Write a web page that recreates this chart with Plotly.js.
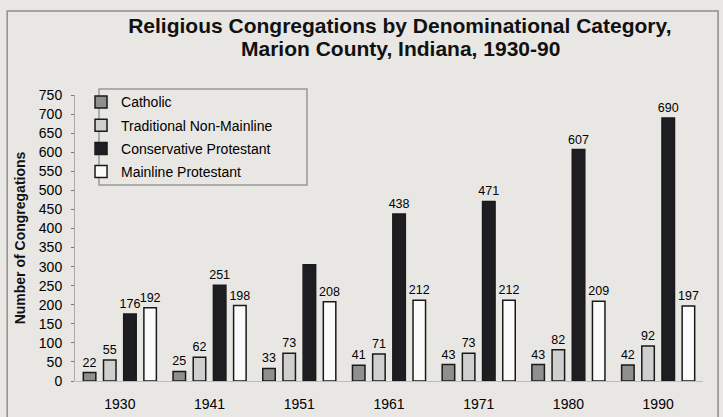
<!DOCTYPE html>
<html>
<head>
<meta charset="utf-8">
<script src="https://cdn.plot.ly/plotly-3.0.1.min.js"></script>
<style>html,body{margin:0;padding:0;background:#e9e7e3;}#chart{width:723px;height:417px;}</style>
</head>
<body>
<div id="chart"></div>
<script>
const years = ['1930', '1941', '1951', '1961', '1971', '1980', '1990'];
const catholic = [22, 25, 33, 41, 43, 43, 42];
const traditional = [55, 62, 73, 71, 73, 82, 92];
const conservative = [176, 251, 305, 438, 471, 607, 690];
const mainline = [192, 198, 208, 212, 212, 209, 197];
const conservativeLabels = ['176', '251', '', '438', '471', '607', '690'];
const yTicks = [0, 50, 100, 150, 200, 250, 300, 350, 400, 450, 500, 550, 600, 650, 700, 750];
const titleLine1 = 'Religious Congregations by Denominational Category,';
const titleLine2 = 'Marion County, Indiana, 1930-90';

const FONT = 'Liberation Sans, Arial, Helvetica, sans-serif';

function mk(name, vals, fill, labels) {
  return {
    type: 'bar', name: name, x: years, y: vals,
    text: labels || vals.map(String), textposition: 'outside', cliponaxis: false,
    constraintext: 'none',
    textfont: {family: FONT, size: 12.5, color: '#000'},
    marker: {color: fill, line: {color: '#1a1a1a', width: 1.5}},
    legendgroup: name, hoverinfo: 'x+y'
  };
}

const data = [
  mk('Catholic', catholic, '#8f8f8f'),
  mk('Traditional Non-Mainline', traditional, '#cfcfcf'),
  mk('Conservative Protestant', conservative, '#1e1e22', conservativeLabels),
  mk('Mainline Protestant', mainline, '#fbfbfb')
];

const layout = {
  width: 723, height: 417,
  margin: {l: 75, r: 20, t: 95, b: 36},
  paper_bgcolor: '#e9e7e3', plot_bgcolor: '#e9e7e3',
  font: {family: FONT, color: '#111'},
  title: {
    text: '<b>' + titleLine1 + '</b>',
    font: {family: FONT, size: 21, color: '#111'},
    x: 0.553, xanchor: 'center', xref: 'container',
    y: 0.9376, yanchor: 'middle', yref: 'container'
  },
  annotations: [
    {text: '<b>' + titleLine2 + '</b>', xref: 'paper', yref: 'paper', x: 0.518, y: 1.164,
     xanchor: 'center', yanchor: 'middle', showarrow: false,
     font: {family: FONT, size: 21, color: '#111'}}
  ],
  barmode: 'group', bargap: 0.1, bargroupgap: 0.38,
  xaxis: {
    type: 'category', range: [-0.5, 6.5],
    showline: false, showgrid: false, zeroline: false,
    ticks: '', ticklabelstandoff: 13,
    tickfont: {family: FONT, size: 14, color: '#000'}
  },
  yaxis: {
    range: [0, 750], tickvals: yTicks, ticktext: yTicks.map(String),
    showgrid: false, zeroline: true, zerolinecolor: '#bbb', zerolinewidth: 1,
    showline: true, linecolor: '#aaa', linewidth: 1,
    ticks: 'outside', ticklen: 3, tickcolor: '#777', ticklabelstandoff: 6,
    tickfont: {family: FONT, size: 14, color: '#000'},
    title: {text: '<b>Number of Congregations</b>', font: {family: FONT, size: 14, color: '#111'}, standoff: 9}
  },
  legend: {
    x: 0.0096, y: 1.03, xanchor: 'left', yanchor: 'top',
    bgcolor: 'rgba(0,0,0,0)', borderwidth: 0,
    font: {family: FONT, size: 14, color: '#000'},
    tracegroupgap: 2, itemwidth: 30
  },
  shapes: [
    {type: 'rect', xref: 'paper', yref: 'paper', x0: -0.108, x1: 1.024, y0: -0.16, y1: 1.294,
     line: {color: '#8f8f8f', width: 1.5}, fillcolor: 'rgba(0,0,0,0)', layer: 'below'},
    {type: 'rect', xref: 'paper', yref: 'paper', x0: (99 - 75) / 628, x1: (307 - 75) / 628,
     y0: (381 - 185) / 286, y1: (381 - 89) / 286,
     line: {color: '#999', width: 1.5}, fillcolor: 'rgba(0,0,0,0)', layer: 'below'}
  ]
};

Plotly.newPlot('chart', data, layout, {displayModeBar: false, staticPlot: true});
</script>
</body>
</html>
